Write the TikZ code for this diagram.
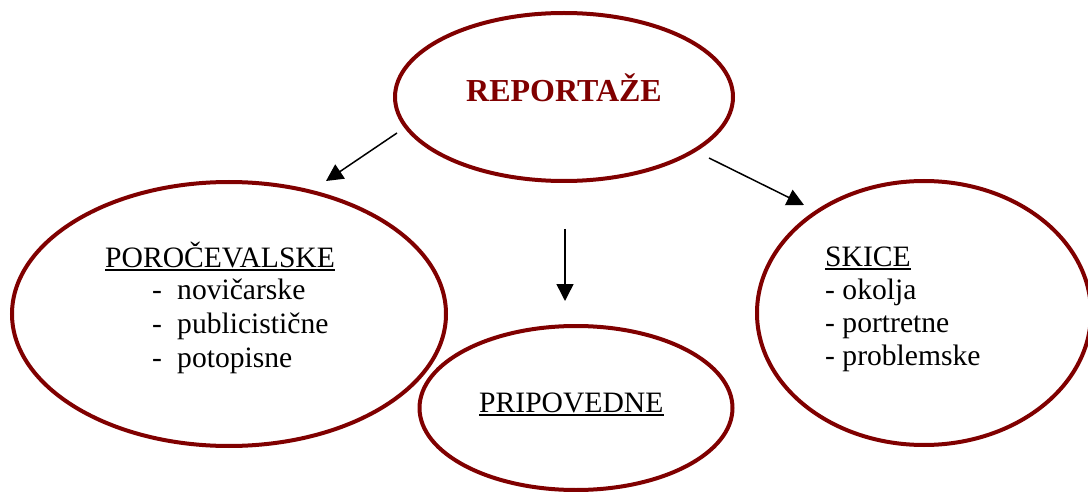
\documentclass[tikz,border=0pt]{standalone}
\usepackage{fontspec}
\setmainfont{Liberation Serif}
\usetikzlibrary{shapes.geometric,arrows.meta}
\definecolor{ellred}{HTML}{800000}
\tikzset{
  bubble/.style={ellipse, draw=ellred, line width=4pt, inner sep=0pt},
  txt/.style={inner sep=0pt, anchor=base west, font=\fontsize{29.6}{34}\selectfont},
  ul/.style={line width=1.8pt, black},
  conn/.style={line width=1.5pt, -{Triangle[length=17pt,width=17pt]}}
}
\begin{document}
\begin{tikzpicture}[x=1pt,y=-1pt]
\useasboundingbox (0,0) rectangle (1088,492);
\clip (0,0) rectangle (1088,492);
\fill[white] (0,0) rectangle (1088,492);

% ellipses
\node[bubble, minimum width=338pt, minimum height=168pt] (top) at (564,97) {};
\node[bubble, minimum width=434pt, minimum height=264pt] (left) at (229,314) {};
\node[bubble, minimum width=313pt, minimum height=164pt] (mid) at (576,408) {};
\node[bubble, minimum width=334pt, minimum height=264pt] (right) at (924,313) {};

% title
\node[inner sep=0pt, anchor=base, text=ellred, font=\fontsize{32}{38}\selectfont\bfseries] (title) at (564,102) {REPORTAŽE};

% left texts
\node[txt] (lh) at (105,267) {POROČEVALSKE};
\draw[ul] ([yshift=-3pt]lh.base west) -- ([yshift=-3pt]lh.base east);
\node[txt] (ld1) at (152,299) {-};
\node[txt] (l1) at (177,299) {novičarske};
\node[txt] (ld2) at (152,333) {-};
\node[txt] (l2) at (177,333) {publicistične};
\node[txt] (ld3) at (152,367) {-};
\node[txt] (l3) at (177,367) {potopisne};

% middle text
\node[txt] (mh) at (479,412) {PRIPOVEDNE};
\draw[ul] ([yshift=-3pt]mh.base west) -- ([yshift=-3pt]mh.base east);

% right texts
\node[txt] (rh) at (825,266) {SKICE};
\draw[ul] ([yshift=-3pt]rh.base west) -- ([yshift=-3pt]rh.base east);
\node[txt] (r1) at (825,299) {- okolja};
\node[txt] (r2) at (825,332) {- portretne};
\node[txt] (r3) at (825,365) {- problemske};

% connectors
\coordinate (aL1) at (397,133);
\coordinate (aL2) at (326,181);
\coordinate (aM1) at (565,229);
\coordinate (aM2) at (565,301);
\coordinate (aR1) at (709,158);
\coordinate (aR2) at (804,205);
\draw[conn] (aL1) -- (aL2);
\draw[conn] (aM1) -- (aM2);
\draw[conn] (aR1) -- (aR2);
\end{tikzpicture}
\end{document}
